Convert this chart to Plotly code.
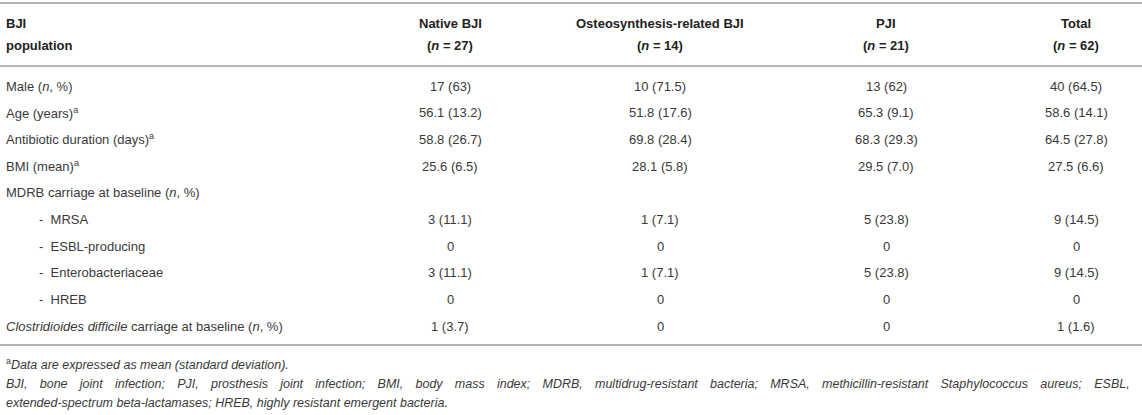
import plotly.graph_objects as go

# ── Table content ─────────────────────────────────────────────────────────
col_headers = [
    ("BJI", "population"),
    ("Native BJI", "(<i>n</i> = 27)"),
    ("Osteosynthesis-related BJI", "(<i>n</i> = 14)"),
    ("PJI", "(<i>n</i> = 21)"),
    ("Total", "(<i>n</i> = 62)"),
]
row_labels = [
    "Male (<i>n</i>, %)",
    "Age (years)<sup>a</sup>",
    "Antibiotic duration (days)<sup>a</sup>",
    "BMI (mean)<sup>a</sup>",
    "MDRB carriage at baseline (<i>n</i>, %)",
    "-  MRSA",
    "-  ESBL-producing",
    "-  Enterobacteriaceae",
    "-  HREB",
    "<i>Clostridioides difficile</i> carriage at baseline (<i>n</i>, %)",
]
row_indent = [0, 0, 0, 0, 0, 1, 1, 1, 1, 0]
native_bji = ["17 (63)", "56.1 (13.2)", "58.8 (26.7)", "25.6 (6.5)", "",
              "3 (11.1)", "0", "3 (11.1)", "0", "1 (3.7)"]
osteo_bji  = ["10 (71.5)", "51.8 (17.6)", "69.8 (28.4)", "28.1 (5.8)", "",
              "1 (7.1)", "0", "1 (7.1)", "0", "0"]
pji        = ["13 (62)", "65.3 (9.1)", "68.3 (29.3)", "29.5 (7.0)", "",
              "5 (23.8)", "0", "5 (23.8)", "0", "0"]
total      = ["40 (64.5)", "58.6 (14.1)", "64.5 (27.8)", "27.5 (6.6)", "",
              "9 (14.5)", "0", "9 (14.5)", "0", "1 (1.6)"]
footnote_a = "<sup>a</sup><i>Data are expressed as mean (standard deviation).</i>"
abbrev_line1 = ("BJI, bone joint infection; PJI, prosthesis joint infection; BMI, body mass index; "
                "MDRB, multidrug-resistant bacteria; MRSA, methicillin-resistant Staphylococcus aureus; ESBL,")
abbrev_line2 = "extended-spectrum beta-lactamases; HREB, highly resistant emergent bacteria."

W, H = 1142, 415
COL_X = [4, 450, 660, 886, 1076]
TEXT = "#3a3a3a"
HEAD = "#222222"
LINE = "#b4b4b4"
FONT = "Liberation Sans, Arial, Helvetica, sans-serif"

fig = go.Figure()
ann = []

# header, two lines
for i, (h1, h2) in enumerate(col_headers):
    for y, t in ((23, h1), (45, h2)):
        ann.append(dict(x=COL_X[i], y=y, text=f"<b>{t}</b>",
                        xanchor="left" if i == 0 else "center", yanchor="middle",
                        font=dict(size=13, color=HEAD)))

# body rows
row_y0, row_dy = 86, 26.7
data_cols = [native_bji, osteo_bji, pji, total]
for r, lbl in enumerate(row_labels):
    y = row_y0 + r * row_dy
    ann.append(dict(x=COL_X[0] + 33 * row_indent[r], y=y, text=lbl, xanchor="left",
                    yanchor="middle", font=dict(size=13, color=TEXT)))
    for c, col in enumerate(data_cols):
        if col[r]:
            ann.append(dict(x=COL_X[c + 1], y=y, text=col[r], xanchor="center",
                            yanchor="middle", font=dict(size=13, color=TEXT)))

# footnotes (second line is justified in the source -> widen the word gaps)
wide = " \u2002\u2009"
footnotes = [footnote_a, "<i>" + abbrev_line1.replace(" ", wide) + "</i>",
             "<i>" + abbrev_line2 + "</i>"]
for k, f in enumerate(footnotes):
    ann.append(dict(x=COL_X[0], y=364 + k * 19.5, text=f, xanchor="left", yanchor="middle",
                    font=dict(size=12.5, color=TEXT)))

for a in ann:
    a.update(xref="x", yref="y", showarrow=False)

shapes = [
    dict(type="line", x0=0, x1=W, y0=y, y1=y, xref="x", yref="y",
         line=dict(color=LINE, width=2))
    for y in (3, 66, 345)
]

fig.update_layout(
    width=W, height=H,
    margin=dict(l=0, r=0, t=0, b=0),
    paper_bgcolor="white", plot_bgcolor="white",
    font=dict(family=FONT, color=TEXT),
    annotations=ann, shapes=shapes,
    xaxis=dict(range=[0, W], visible=False, fixedrange=True),
    yaxis=dict(range=[H, 0], visible=False, fixedrange=True),
    showlegend=False,
)
fig.write_html("out.html", config={"displayModeBar": False},
               post_script="document.body.style.margin='0';")
